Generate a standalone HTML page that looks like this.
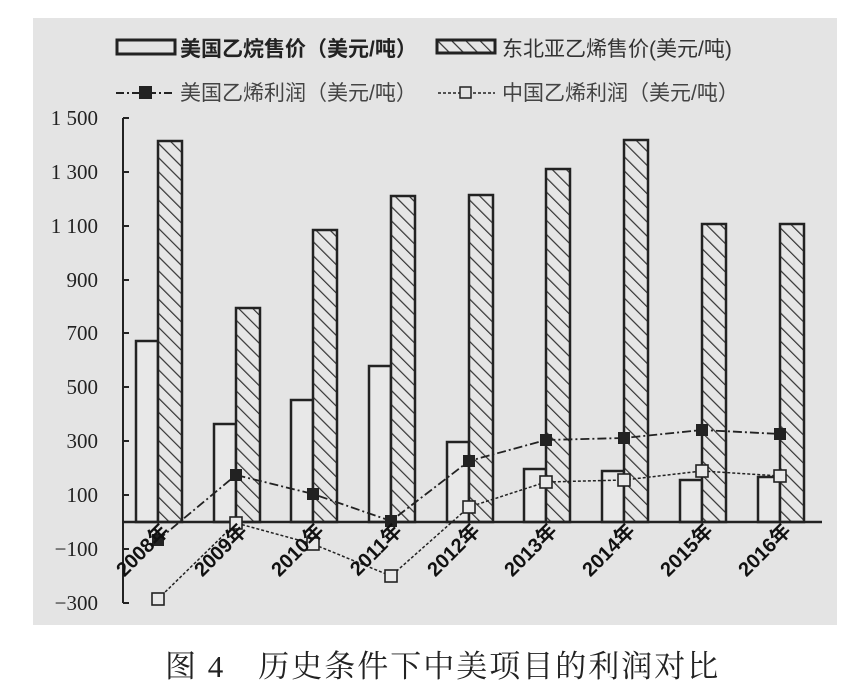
<!DOCTYPE html>
<html><head><meta charset="utf-8"><style>
html,body{margin:0;padding:0;background:#fff;width:860px;height:692px;overflow:hidden}
svg{display:block}
.t{font-family:"Liberation Serif","Noto Serif CJK SC",serif;font-size:21px;fill:#222}
.l{font-family:"Liberation Sans","Noto Sans CJK SC",sans-serif;font-size:20px;font-weight:bold;fill:#111}
</style></head><body>
<svg width="860" height="692" viewBox="0 0 860 692" xmlns="http://www.w3.org/2000/svg">
<defs>
<pattern id="h" width="10" height="10" patternUnits="userSpaceOnUse" patternTransform="rotate(-45)">
<rect width="10" height="10" fill="#e6e6e6"/><line x1="0" y1="0" x2="0" y2="10" stroke="#333" stroke-width="2.4"/>
</pattern>
</defs>
<rect x="33" y="18" width="804" height="607" fill="#e4e4e4"/>
<!-- legend -->
<rect x="117" y="40" width="58" height="14" fill="none" stroke="#222" stroke-width="3"/>
<text x="180" y="56" font-family="Liberation Sans,Noto Sans CJK SC,sans-serif" font-size="21" font-weight="bold" fill="#222">美国乙烷售价（美元/吨）</text>
<rect x="437" y="40" width="58" height="13" fill="url(#h)" stroke="#222" stroke-width="3"/>
<text x="502" y="56" font-family="Liberation Sans,Noto Sans CJK SC,sans-serif" font-size="21" fill="#333">东北亚乙烯售价(美元/吨)</text>
<line x1="116" y1="93" x2="175" y2="93" stroke="#222" stroke-width="2" stroke-dasharray="8,3,2,3"/>
<rect x="139" y="86" width="13" height="13" fill="#222"/>
<text x="180" y="100" font-family="Liberation Sans,Noto Sans CJK SC,sans-serif" font-size="21" fill="#444">美国乙烯利润（美元/吨）</text>
<line x1="438" y1="93" x2="495" y2="93" stroke="#222" stroke-width="1.5" stroke-dasharray="3,2"/>
<rect x="460" y="87" width="11" height="11" fill="#e4e4e4" stroke="#222" stroke-width="1.5"/>
<text x="502" y="100" font-family="Liberation Sans,Noto Sans CJK SC,sans-serif" font-size="21" fill="#444">中国乙烯利润（美元/吨）</text>
<!-- axis -->
<g stroke="#222" stroke-width="2">
<line x1="123" y1="118" x2="123" y2="603"/>
<line x1="123" y1="118" x2="129" y2="118"/><line x1="123" y1="172" x2="129" y2="172"/>
<line x1="123" y1="226" x2="129" y2="226"/><line x1="123" y1="280" x2="129" y2="280"/>
<line x1="123" y1="333" x2="129" y2="333"/><line x1="123" y1="387" x2="129" y2="387"/>
<line x1="123" y1="441" x2="129" y2="441"/><line x1="123" y1="495" x2="129" y2="495"/>
<line x1="123" y1="549" x2="129" y2="549"/><line x1="123" y1="603" x2="129" y2="603"/>
</g>
<g class="t" text-anchor="end">
<text x="98" y="125">1 500</text><text x="98" y="179">1 300</text><text x="98" y="233">1 100</text>
<text x="98" y="287">900</text><text x="98" y="340">700</text><text x="98" y="394">500</text>
<text x="98" y="448">300</text><text x="98" y="502">100</text><text x="98" y="556">−100</text><text x="98" y="610">−300</text>
</g>
<!-- bars -->
<g stroke="#222" stroke-width="2.5">
<rect x="136" y="341" width="22" height="181" fill="#e8e8e8"/><rect x="158" y="141" width="24" height="381" fill="url(#h)"/>
<rect x="214" y="424" width="22" height="98" fill="#e8e8e8"/><rect x="236" y="308" width="24" height="214" fill="url(#h)"/>
<rect x="291" y="400" width="22" height="122" fill="#e8e8e8"/><rect x="313" y="230" width="24" height="292" fill="url(#h)"/>
<rect x="369" y="366" width="22" height="156" fill="#e8e8e8"/><rect x="391" y="196" width="24" height="326" fill="url(#h)"/>
<rect x="447" y="442" width="22" height="80" fill="#e8e8e8"/><rect x="469" y="195" width="24" height="327" fill="url(#h)"/>
<rect x="524" y="469" width="22" height="53" fill="#e8e8e8"/><rect x="546" y="169" width="24" height="353" fill="url(#h)"/>
<rect x="602" y="471" width="22" height="51" fill="#e8e8e8"/><rect x="624" y="140" width="24" height="382" fill="url(#h)"/>
<rect x="680" y="480" width="22" height="42" fill="#e8e8e8"/><rect x="702" y="224" width="24" height="298" fill="url(#h)"/>
<rect x="758" y="477" width="22" height="45" fill="#e8e8e8"/><rect x="780" y="224" width="24" height="298" fill="url(#h)"/>
</g>
<line x1="123" y1="522" x2="822" y2="522" stroke="#222" stroke-width="2.5"/>
<!-- lines -->
<polyline points="158,540 236,475 313,494 391,521 469,461 546,440 624,438 702,430 780,434" fill="none" stroke="#222" stroke-width="1.8" stroke-dasharray="9,3,2,3"/>
<polyline points="158,599 236,523 313,544 391,576 469,507 546,482 624,480 702,471 780,476" fill="none" stroke="#222" stroke-width="1.5" stroke-dasharray="3,2"/>
<g fill="#222">
<rect x="152" y="534" width="12" height="12"/><rect x="230" y="469" width="12" height="12"/><rect x="307" y="488" width="12" height="12"/>
<rect x="385" y="515" width="12" height="12"/><rect x="463" y="455" width="12" height="12"/><rect x="540" y="434" width="12" height="12"/>
<rect x="618" y="432" width="12" height="12"/><rect x="696" y="424" width="12" height="12"/><rect x="774" y="428" width="12" height="12"/>
</g>
<g fill="#e8e8e8" stroke="#222" stroke-width="1.6">
<rect x="152" y="593" width="12" height="12"/><rect x="230" y="517" width="12" height="12"/><rect x="307" y="538" width="12" height="12"/>
<rect x="385" y="570" width="12" height="12"/><rect x="463" y="501" width="12" height="12"/><rect x="540" y="476" width="12" height="12"/>
<rect x="618" y="474" width="12" height="12"/><rect x="696" y="465" width="12" height="12"/><rect x="774" y="470" width="12" height="12"/>
</g>
<!-- x labels -->
<g class="l" text-anchor="end">
<text transform="translate(170,532) rotate(-45)">2008年</text>
<text transform="translate(248,532) rotate(-45)">2009年</text>
<text transform="translate(325,532) rotate(-45)">2010年</text>
<text transform="translate(403,532) rotate(-45)">2011年</text>
<text transform="translate(481,532) rotate(-45)">2012年</text>
<text transform="translate(558,532) rotate(-45)">2013年</text>
<text transform="translate(636,532) rotate(-45)">2014年</text>
<text transform="translate(714,532) rotate(-45)">2015年</text>
<text transform="translate(792,532) rotate(-45)">2016年</text>
</g>
<text x="165" y="677" font-family="Liberation Serif,Noto Serif CJK SC,serif" font-size="31" letter-spacing="2" fill="#222">图 4　历史条件下中美项目的利润对比</text>
</svg>
</body></html>
